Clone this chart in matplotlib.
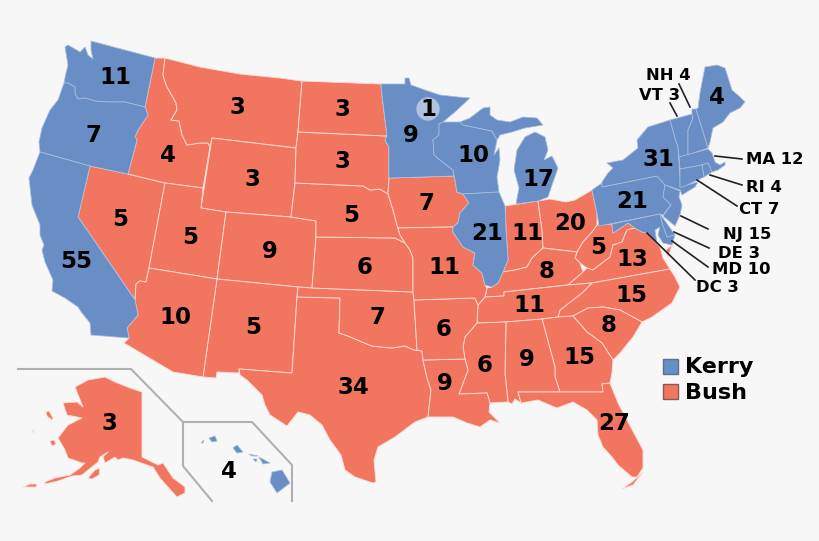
import matplotlib
matplotlib.use('Agg')
import matplotlib.pyplot as plt

# outlines, in picture pixels (x, y down)
WA = [(91,41),(155,58),(145,107),(125,102),(108,102),(95,101),(85,98),(78,99),(75,94),(75,87),(68,83),(64,83),(66,73),(68,65),(65,47),(68,45),(80,52),(85,47),(88,55),(93,59),(91,50)]
OR = [(64,83),(68,83),(75,87),(75,94),(78,99),(85,98),(95,101),(108,102),(125,102),(145,107),(148,115),(138,130),(135,137),(137,140),(128,174),(90,166),(40,152),(39,142),(42,128),(50,110),(58,100)]
CA = [(40,152),(90,166),(78,217),(135,300),(138,315),(132,322),(127,328),(129,338),(91,335),(90,323),(82,313),(78,307),(65,298),(52,291),(53,280),(45,262),(42,250),(44,245),(40,235),(40,225),(32,205),(29,178),(33,170)]
NV = [(90,166),(128,174),(165,183),(149,268),(146,282),(140,281),(136,284),(135,300),(78,217)]
ID = [(155,58),(165,58),(163,75),(166,85),(176,103),(177,110),(171,120),(179,121),(182,135),(187,145),(200,143),(208,143),(210,147),(203,188),(165,183),(128,174),(137,140),(135,137),(138,130),(148,115),(145,107)]
MT = [(165,58),(200,67),(240,74),(280,78),(302,81),(298,132),(296,148),(212,138),(210,147),(208,143),(200,143),(187,145),(182,135),(179,121),(171,120),(177,110),(176,103),(166,85),(163,75)]
WY = [(212,138),(296,148),(295,183),(291,217),(226,212),(201,208)]
UT = [(165,183),(203,188),(201,208),(226,212),(217,279),(149,268)]
CO = [(226,212),(291,217),(316,221),(316,237),(312,288),(298,287),(217,279)]
NM = [(217,279),(298,287),(297,297),(292,373),(239,369),(239,373),(217,372),(216,378),(203,377)]
AZ = [(149,268),(217,279),(203,377),(173,372),(124,343),(129,338),(127,328),(132,322),(138,315),(135,300),(136,284),(140,281),(146,282)]
TX = [(297,297),(340,298),(339,333),(348,336),(362,342),(372,346),(381,347),(392,348),(405,346),(414,350),(422,351),(423,360),(427,378),(431,390),(428,417),(415,422),(395,437),(378,447),(374,460),(376,482),(373,483),(355,477),(345,470),(341,455),(330,440),(322,425),(310,415),(298,412),(287,426),(270,415),(265,405),(262,395),(247,380),(240,375),(239,369),(292,373)]
OK = [(298,287),(312,288),(413,292),(414,300),(417,350),(414,350),(405,346),(392,348),(381,347),(372,346),(362,342),(348,336),(339,333),(340,298),(297,297)]
KS = [(316,237),(395,238),(405,243),(410,250),(413,258),(413,292),(312,288)]
NE = [(295,183),(363,186),(370,190),(380,189),(388,194),(393,210),(397,225),(400,235),(405,243),(395,238),(316,237),(316,221),(291,217)]
SD = [(298,132),(387,136),(385,140),(389,147),(389,178),(388,194),(380,189),(370,190),(363,186),(295,183),(296,148)]
ND = [(302,81),(381,84),(382,95),(387,136),(298,132)]
MN = [(381,84),(405,84),(405,78),(409,78),(411,85),(425,90),(440,95),(458,97),(470,98),(455,112),(443,122),(439,124),(439,135),(433,140),(434,155),(440,160),(453,170),(454,176),(389,178),(389,147),(385,140),(387,136),(382,95)]
WI = [(439,124),(443,122),(460,122),(463,125),(492,131),(497,140),(494,155),(499,148),(500,160),(497,177),(499,192),(463,194),(457,192),(455,180),(453,170),(440,160),(434,155),(433,140),(439,135)]
MI_UP = [(460,122),(470,118),(483,108),(490,107),(490,115),(497,120),(510,122),(523,117),(537,118),(543,125),(525,128),(512,132),(500,135),(497,140),(492,131),(463,125)]
MI_LP = [(516,204),(519,188),(514,170),(517,150),(525,137),(535,132),(545,137),(548,150),(544,160),(552,156),(558,168),(552,185),(548,197),(538,201)]
IA = [(389,178),(454,176),(455,180),(457,192),(463,194),(469,203),(460,213),(458,223),(453,227),(398,228),(397,225),(393,210),(388,194)]
IL = [(463,194),(499,192),(505,206),(506,230),(508,260),(503,272),(498,283),(492,287),(485,285),(482,273),(473,265),(475,253),(463,247),(453,232),(453,227),(458,223),(460,213),(469,203)]
IN = [(505,206),(538,201),(542,230),(543,248),(532,258),(527,267),(515,270),(503,272),(508,260),(506,230)]
OH = [(538,201),(550,199),(566,202),(575,200),(592,190),(597,213),(597,225),(592,232),(583,242),(577,252),(560,250),(543,248),(542,230)]
WV = [(597,225),(612,224),(613,233),(628,223),(635,228),(627,230),(622,242),(613,245),(610,257),(602,263),(593,270),(587,268),(580,263),(575,258),(577,252),(583,242),(592,232)]
KY = [(487,288),(492,287),(498,283),(503,272),(515,270),(527,267),(532,258),(543,248),(560,250),(577,252),(575,258),(580,263),(583,272),(568,285),(504,292),(504,296),(485,297)]
VA = [(568,285),(583,272),(587,268),(593,270),(602,263),(610,257),(613,245),(622,242),(627,230),(635,228),(642,232),(648,233),(657,244),(660,247),(663,258),(670,269),(592,283)]
VA_SHORE = [(672,245),(668,258),(666,250)]
NC = [(592,283),(670,269),(675,277),(680,287),(672,303),(652,317),(642,322),(620,310),(603,307),(588,308),(573,316),(558,317),(560,310),(573,300),(582,293)]
TN = [(485,297),(504,296),(504,292),(568,285),(592,283),(582,293),(573,300),(560,310),(558,317),(542,319),(506,322),(477,323),(478,305)]
SC = [(573,316),(588,308),(603,307),(620,310),(642,322),(633,337),(620,353),(613,360),(602,343),(587,332)]
GA = [(542,319),(558,317),(573,316),(587,332),(602,343),(613,360),(612,373),(610,383),(602,384),(603,392),(560,392),(555,377),(555,367)]
AL = [(506,322),(542,319),(555,367),(555,377),(560,392),(518,392),(521,403),(515,399),(512,404),(508,402),(505,373)]
MS = [(477,323),(506,322),(505,373),(508,402),(490,403),(487,393),(459,394),(468,370),(465,359),(463,347),(465,337)]
LA = [(423,360),(465,359),(468,370),(459,394),(487,393),(490,403),(489,412),(500,423),(490,420),(480,427),(467,423),(453,417),(428,417),(431,390),(427,378)]
AR = [(414,300),(475,298),(478,305),(477,323),(465,337),(463,347),(465,359),(423,360),(422,351),(417,350)]
MO = [(398,228),(453,227),(453,232),(463,247),(475,253),(473,265),(482,273),(485,285),(487,288),(485,297),(478,305),(475,298),(414,300),(413,292),(413,258),(410,250),(405,243),(400,235)]
FL = [(518,392),(560,392),(603,392),(602,384),(610,383),(618,403),(628,422),(643,450),(643,468),(637,477),(632,477),(618,465),(612,457),(603,447),(598,435),(597,420),(587,410),(573,402),(557,408),(538,400),(521,403)]
FL_KEYS = [(643,472),(633,485),(622,489),(632,482)]
PA = [(592,190),(602,183),(602,187),(657,176),(665,185),(663,197),(671,205),(663,215),(660,214),(599,226),(597,213)]
NY = [(602,182),(608,173),(613,168),(607,163),(623,160),(638,148),(637,140),(648,127),(670,120),(675,138),(678,147),(680,178),(680,187),(698,182),(695,187),(682,195),(680,190),(665,185),(657,176),(602,187)]
VT = [(670,120),(692,114),(693,118),(688,130),(688,155),(679,157),(678,147),(675,138)]
NH = [(692,114),(692,109),(696,109),(700,122),(705,138),(708,148),(688,155),(688,130),(693,118)]
ME = [(696,109),(698,108),(700,93),(705,67),(717,65),(725,68),(732,90),(740,97),(745,102),(740,108),(730,113),(723,122),(713,128),(710,142),(708,148),(705,138),(700,122)]
MA = [(679,157),(708,149),(712,153),(715,162),(720,165),(725,162),(725,165),(718,170),(712,172),(708,163),(702,165),(680,169)]
RI = [(702,165),(708,163),(712,172),(704,177)]
CT = [(680,169),(702,165),(704,177),(683,187),(680,187)]
NJ = [(665,185),(680,191),(679,197),(682,205),(680,215),(675,226),(663,216),(671,205),(663,197)]
DE = [(660,214),(663,218),(675,235),(667,237),(662,223)]
MD = [(612,224),(660,214),(662,223),(667,237),(675,235),(672,245),(663,243),(658,235),(660,227),(655,230),(657,244),(648,233),(642,232),(635,228),(628,223),(613,233)]
AK = [(75,387),(88,380),(105,377),(115,382),(130,388),(142,392),(142,457),(148,460),(158,465),(163,463),(173,478),(185,487),(185,493),(177,497),(168,487),(160,478),(153,467),(147,465),(133,460),(123,458),(118,460),(115,457),(105,463),(103,457),(108,452),(100,457),(98,462),(82,475),(72,476),(58,481),(45,484),(45,482),(55,478),(70,475),(80,468),(85,463),(82,463),(68,458),(65,450),(58,438),(68,425),(82,418),(67,415),(63,403),(77,402),(83,407)]
AK_KODIAK = [(88,478),(95,470),(100,468),(99,475),(92,479)]
AK_ALEUT = [(23,487),(30,484),(37,484),(36,487),(28,487)]
AK_LAWRENCE = [(46,412),(49,411),(53,418),(52,420),(47,416)]
AK_NUNIVAK = [(50,441),(54,440),(56,444),(52,446)]
AK_MATTHEW = [(32,430),(34,431),(34,433)]
HI_BIG = [(272,472),(282,470),(290,483),(277,493),(270,482)]
HI_MAUI = [(259,457),(270,463),(263,464)]
HI_OAHU = [(233,448),(237,445),(243,452),(237,453)]
HI_KAUAI = [(209,438),(215,436),(217,441),(212,442)]
HI_NIIHAU = [(201,443),(204,440),(203,443)]
HI_MOLOKAI = [(249,454),(258,456),(252,456)]
HI_LANAI = [(253,459),(257,459),(256,462)]

kerry = [WA, OR, CA, MN, WI, MI_UP, MI_LP, IL, PA, NY, VT, NH, ME, MA, RI, CT, NJ, DE, MD,
         HI_BIG, HI_MAUI, HI_OAHU, HI_KAUAI, HI_NIIHAU, HI_MOLOKAI, HI_LANAI]
bush = [NV, ID, MT, WY, UT, CO, NM, AZ, TX, OK, KS, NE, SD, ND, IA, IN, OH, WV, KY, VA, VA_SHORE,
        NC, TN, SC, GA, AL, MS, LA, AR, MO, FL, FL_KEYS, AK, AK_KODIAK, AK_ALEUT, AK_LAWRENCE,
        AK_NUNIVAK, AK_MATTHEW]

votes = ['11','7','55','4','3','3','5','5','9','10','5','34','7','6','5','3','3','9','1','10','7','21',
         '11','17','20','11','8','5','13','15','11','8','6','6','9','9','15','27','3','4','31','21','4']
votes_x = [115,94,76,168,237,252,120,190,270,175,253,353,378,365,351,342,342,411,428,473,427,487,
           527,538,570,444,547,598,632,631,529,609,444,485,445,527,579,614,109,229,658,632,717]
votes_y = [78,136,262,155,108,179,219,237,251,317,327,388,318,267,216,110,161,136,109,156,204,233,
           234,179,224,268,272,248,259,296,305,326,329,365,383,359,357,424,424,472,159,201,98]

small_labels = ['NH 4','VT 3','MA 12','RI 4','CT 7','NJ 15','DE 3','MD 10','DC 3']
small_x = [668,660,775,764,759,747,739,741,717]
small_y = [76,95,160,187,209,234,253,270,287]
leader_from = [(679,84),(670,103),(715,156),(710,175),(697,180),(681,216),(674,232),(672,241),(647,233)]
leader_to = [(690,107),(677,116),(742,159),(742,185),(737,206),(708,229),(709,248),(708,267),(695,280)]

alaska_box = [(18,369),(131,369),(183,422)]
hawaii_box = [(212,501),(183,466),(183,422),(252,422),(292,465),(292,501)]

BG = '#f7f7f7'
BLUE = '#698dc5'
RED = '#f27560'

fig = plt.figure(figsize=(8.2, 5.41), dpi=100, facecolor=BG)
ax = fig.add_axes([0, 0, 1, 1])
ax.set_xlim(0, 820)
ax.set_ylim(541, 0)
ax.axis('off')

for shape in bush:
    xs, ys = zip(*shape)
    ax.fill(xs, ys, facecolor=RED, edgecolor='#fbdcd5', linewidth=0.65, joinstyle='round')
for shape in kerry:
    xs, ys = zip(*shape)
    ax.fill(xs, ys, facecolor=BLUE, edgecolor='#a9bddd', linewidth=0.55, joinstyle='round')

# inset frames
for box in [alaska_box, hawaii_box]:
    xs, ys = zip(*box)
    ax.plot(xs, ys, color='#b0b0b0', linewidth=1.5)

# marker on Minnesota
ax.add_patch(plt.Circle((428, 109), 11, color='#b0c2df', zorder=3))

for a, b in zip(leader_from, leader_to):
    ax.plot([a[0], b[0]], [a[1], b[1]], color='#222222', linewidth=1.2, zorder=4)

for t, x, y in zip(votes, votes_x, votes_y):
    ax.text(x, y, t, fontsize=16.5, fontweight='bold', ha='center', va='center', color='black', zorder=5)
for t, x, y in zip(small_labels, small_x, small_y):
    ax.text(x, y, t, fontsize=11.8, fontweight='bold', ha='center', va='center', color='black', zorder=5)

# legend
ax.add_patch(plt.Rectangle((663, 359), 15, 15, facecolor=BLUE, edgecolor='#5a6f92', linewidth=1))
ax.add_patch(plt.Rectangle((663, 384), 15, 15, facecolor=RED, edgecolor='#8a5a52', linewidth=1))
ax.text(685, 367, 'Kerry', fontsize=16, fontweight='bold', va='center', color='black')
ax.text(685, 393, 'Bush', fontsize=16, fontweight='bold', va='center', color='black')

fig.savefig('out.png', dpi=100, facecolor=BG)
